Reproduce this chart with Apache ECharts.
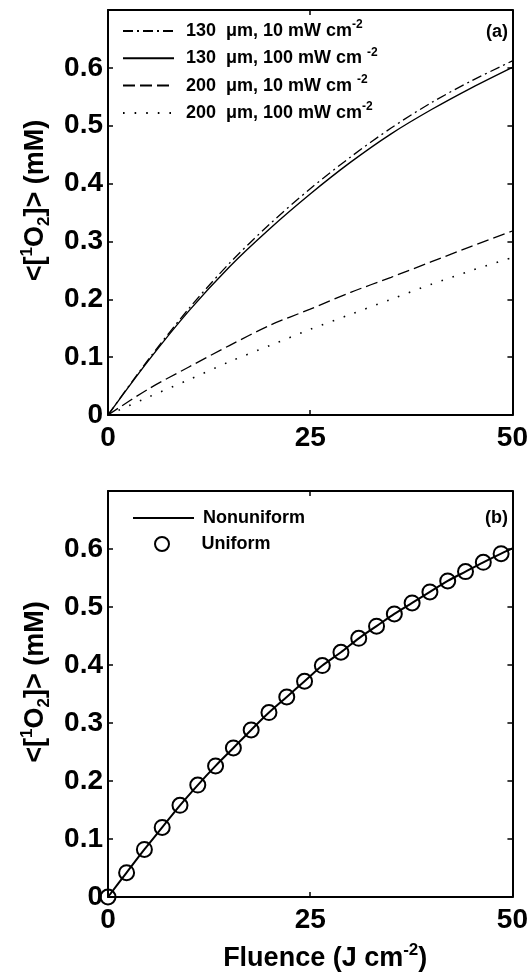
<!DOCTYPE html>
<html>
<head>
<meta charset="utf-8">
<script src="https://cdn.jsdelivr.net/npm/echarts@6/dist/echarts.min.js"></script>
<style>
html,body{margin:0;padding:0;background:#fff;}
#chart{width:531px;height:977px;}
</style>
</head>
<body>
<div id="chart"></div>
<script>
// ---- data ----
const fluenceA = [0, 5, 10, 15, 20, 25, 30, 35, 40, 45, 50];
const o2_130_10 = [0, 0.096, 0.184, 0.262, 0.330, 0.391, 0.446, 0.496, 0.540, 0.578, 0.612];
const o2_130_100 = [0, 0.094, 0.180, 0.256, 0.322, 0.382, 0.437, 0.486, 0.528, 0.566, 0.601];
const o2_200_10 = [0, 0.045, 0.083, 0.120, 0.155, 0.183, 0.212, 0.238, 0.265, 0.292, 0.318];
const o2_200_100 = [0, 0.031, 0.061, 0.092, 0.120, 0.148, 0.174, 0.200, 0.226, 0.250, 0.272];

const fluenceB = [0, 2.3, 4.5, 6.7, 8.9, 11.1, 13.3, 15.5, 17.7, 19.9, 22.1, 24.3, 26.5, 28.8, 31.0, 33.2, 35.4, 37.6, 39.8, 42.0, 44.2, 46.4, 48.6];
const uniformB = [0, 0.042, 0.082, 0.120, 0.158, 0.193, 0.226, 0.257, 0.288, 0.318, 0.345, 0.372, 0.399, 0.422, 0.446, 0.467, 0.488, 0.507, 0.526, 0.545, 0.561, 0.577, 0.592];
const fluenceLine = [0, 2.3, 4.5, 6.7, 8.9, 11.1, 13.3, 15.5, 17.7, 19.9, 22.1, 24.3, 26.5, 28.8, 31.0, 33.2, 35.4, 37.6, 39.8, 42.0, 44.2, 46.4, 48.6, 50];
const nonuniformB = [0, 0.042, 0.082, 0.120, 0.158, 0.193, 0.226, 0.257, 0.288, 0.318, 0.345, 0.372, 0.399, 0.422, 0.446, 0.467, 0.488, 0.507, 0.526, 0.545, 0.561, 0.577, 0.592, 0.601];

const xTicks = [0, 25, 50];
const yTicks = [0, 0.1, 0.2, 0.3, 0.4, 0.5, 0.6];

const seriesNamesA = ['130 μm, 10 mW', '130 μm, 100 mW', '200 μm, 10 mW', '200 μm, 100 mW'];
const legendTextA = {
  '130 μm, 10 mW': '{p|}{t|130  μm, 10 mW cm}{s|-2}',
  '130 μm, 100 mW': '{p|}{t|130  μm, 100 mW cm }{s|-2}',
  '200 μm, 10 mW': '{p|}{t|200  μm, 10 mW cm }{s|-2}',
  '200 μm, 100 mW': '{p|}{t|200  μm, 100 mW cm}{s|-2}'
};
const seriesNamesB = ['Nonuniform', 'Uniform'];

// ---- helpers ----
const FONT = 'Liberation Sans, Arial, Helvetica, sans-serif';
function zip(xs, ys) { return xs.map((x, i) => [x, ys[i]]); }

const G = [
  { left: 108, top: 10, width: 406, height: 405 },
  { left: 108, top: 491, width: 406, height: 406 }
];

function xAx(gi, pos, withLabels, name) {
  const a = {
    gridIndex: gi, type: 'value', min: 0, max: 50, interval: 25, position: pos,
    axisLine: { show: true, onZero: false, lineStyle: { color: '#000', width: 2 } },
    axisTick: { show: true, inside: true, length: 5, lineStyle: { color: '#000', width: 1.5 } },
    axisLabel: { show: withLabels, color: '#000', fontFamily: FONT, fontWeight: 'bold', fontSize: 28, margin: 9 },
    splitLine: { show: false }
  };
  if (name) {
    a.name = name;
    a.nameLocation = 'middle';
    a.nameGap = 45;
    a.nameTextStyle = {
      color: '#000',
      padding: [0, 0, 0, 30],
      rich: {
        a: { fontFamily: FONT, fontWeight: 'bold', fontSize: 27, color: '#000', lineHeight: 33 },
        sup: { fontFamily: FONT, fontWeight: 'bold', fontSize: 17, color: '#000', verticalAlign: 'top', lineHeight: 33 }
      }
    };
  }
  return a;
}
function yAx(gi, pos, withLabels) {
  const a = {
    gridIndex: gi, type: 'value', min: 0, max: 0.7, interval: 0.1, position: pos,
    axisLine: { show: true, onZero: false, lineStyle: { color: '#000', width: 2 } },
    axisTick: { show: true, inside: true, length: 5, lineStyle: { color: '#000', width: 1.5 } },
    axisLabel: {
      show: withLabels, color: '#000', fontFamily: FONT, fontWeight: 'bold', fontSize: 28, margin: 5,
      showMaxLabel: false,
      formatter: function (v) { const r = Math.round(v * 10) / 10; return yTicks.indexOf(r) >= 0 ? String(r) : ''; }
    },
    splitLine: { show: false }
  };
  if (withLabels) {
    a.name = '{a|<[}{sup|1}{a|O}{sub|2}{a|]> (mM)}';
    a.nameLocation = 'middle';
    a.nameRotate = 90;
    a.nameGap = 55;
    a.nameTextStyle = {
      color: '#000',
      padding: [0, 0, 0, 24],
      rich: {
        a: { fontFamily: FONT, fontWeight: 'bold', fontSize: 27, color: '#000', lineHeight: 34 },
        sup: { fontFamily: FONT, fontWeight: 'bold', fontSize: 17, color: '#000', verticalAlign: 'top', lineHeight: 34 },
        sub: { fontFamily: FONT, fontWeight: 'bold', fontSize: 17, color: '#000', verticalAlign: 'bottom', lineHeight: 34 }
      }
    };
  }
  return a;
}

const legendRich = {
  p: { width: 7 },
  t: { fontFamily: FONT, fontWeight: 'bold', fontSize: 18, color: '#000', lineHeight: 24 },
  s: { fontFamily: FONT, fontWeight: 'bold', fontSize: 12, color: '#000', verticalAlign: 'top', lineHeight: 24 }
};
const hideSymbol = { color: 'rgba(0,0,0,0)', borderColor: 'rgba(0,0,0,0)', borderWidth: 0 };

const legendsA = seriesNamesA.map((n, i) => ({
  data: [n], left: 122, top: 19 + i * 27.3, orient: 'vertical', padding: 0,
  itemWidth: 51, itemHeight: 12, selectedMode: false,
  itemStyle: hideSymbol,
  formatter: function (name) { return legendTextA[name]; },
  textStyle: { rich: legendRich }
}));
const legendsB = [
  { data: [seriesNamesB[0]], left: 132, top: 509, orient: 'vertical', padding: 0,
    itemWidth: 61, itemHeight: 14, selectedMode: false, itemStyle: hideSymbol,
    formatter: function (name) { return '{p|}{t|' + name + '}'; },
    textStyle: { rich: { p: { width: 4 }, t: { fontFamily: FONT, fontWeight: 'bold', fontSize: 18, color: '#000', lineHeight: 24 } } } },
  { data: [seriesNamesB[1]], left: 154, top: 535, orient: 'vertical', padding: 0,
    itemWidth: 61, itemHeight: 14, selectedMode: false,
    formatter: function (name) { return '{p|}{t|' + name + '}'; },
    textStyle: { rich: { p: { width: 4 }, t: { fontFamily: FONT, fontWeight: 'bold', fontSize: 18, color: '#000', lineHeight: 24 } } } }
];

const option = {
  animation: false,
  backgroundColor: '#fff',
  grid: G,
  xAxis: [
    xAx(0, 'bottom', true), xAx(0, 'top', false),
    xAx(1, 'bottom', true, '{a|Fluence (J cm}{sup|-2}{a|)}'), xAx(1, 'top', false)
  ],
  yAxis: [
    yAx(0, 'left', true), yAx(0, 'right', false),
    yAx(1, 'left', true), yAx(1, 'right', false)
  ],
  legend: legendsA.concat(legendsB),
  graphic: [
    { type: 'text', right: 23, top: 23, style: { text: '(a)', fill: '#000', font: 'bold 18px ' + FONT } },
    { type: 'text', right: 23, top: 509, style: { text: '(b)', fill: '#000', font: 'bold 18px ' + FONT } }
  ],
  series: [
    { name: seriesNamesA[0], type: 'line', xAxisIndex: 0, yAxisIndex: 0, smooth: 0.3, symbol: 'none', z: 3,
      lineStyle: { color: '#000', width: 1.3, type: [10, 4, 2, 4] }, itemStyle: { color: '#000' },
      data: zip(fluenceA, o2_130_10) },
    { name: seriesNamesA[1], type: 'line', xAxisIndex: 0, yAxisIndex: 0, smooth: 0.3, symbol: 'none', z: 3,
      lineStyle: { color: '#000', width: 1.4, type: 'solid' }, itemStyle: { color: '#000' },
      data: zip(fluenceA, o2_130_100) },
    { name: seriesNamesA[2], type: 'line', xAxisIndex: 0, yAxisIndex: 0, smooth: 0.3, symbol: 'none', z: 3,
      lineStyle: { color: '#000', width: 1.3, type: [12, 5] }, itemStyle: { color: '#000' },
      data: zip(fluenceA, o2_200_10) },
    { name: seriesNamesA[3], type: 'line', xAxisIndex: 0, yAxisIndex: 0, smooth: 0.3, symbol: 'none', z: 3,
      lineStyle: { color: '#000', width: 1.6, type: [1.6, 10] }, itemStyle: { color: '#000' },
      data: zip(fluenceA, o2_200_100) },
    { name: seriesNamesB[0], type: 'line', xAxisIndex: 2, yAxisIndex: 2, smooth: 0.3, symbol: 'none', z: 3,
      lineStyle: { color: '#000', width: 2 }, itemStyle: { color: '#000' },
      data: zip(fluenceLine, nonuniformB) },
    { name: seriesNamesB[1], type: 'scatter', xAxisIndex: 2, yAxisIndex: 2, symbol: 'circle', symbolSize: 15, z: 4,
      itemStyle: { color: 'rgba(0,0,0,0)', borderColor: '#000', borderWidth: 2, opacity: 1 },
      data: zip(fluenceB, uniformB) }
  ]
};

const chart = echarts.init(document.getElementById('chart'), null, { renderer: 'canvas' });
chart.setOption(option);
</script>
</body>
</html>
